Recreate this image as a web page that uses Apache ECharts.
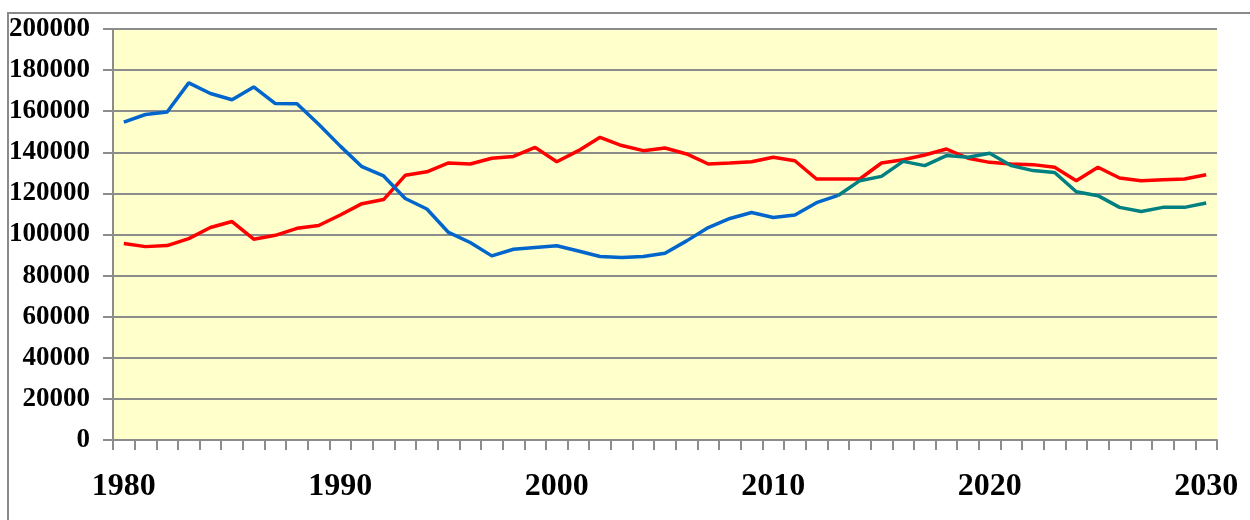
<!DOCTYPE html>
<html>
<head>
<meta charset="utf-8">
<script src="https://cdn.jsdelivr.net/npm/echarts@6/dist/echarts.min.js"></script>
<style>
html,body{margin:0;padding:0;background:#fff;}
#chart{width:1250px;height:520px;}
</style>
</head>
<body>
<div id="chart"></div>
<script>
const years = [
  '1980','1981','1982','1983','1984','1985','1986','1987','1988','1989',
  '1990','1991','1992','1993','1994','1995','1996','1997','1998','1999',
  '2000','2001','2002','2003','2004','2005','2006','2007','2008','2009',
  '2010','2011','2012','2013','2014','2015','2016','2017','2018','2019',
  '2020','2021','2022','2023','2024','2025','2026','2027','2028','2029','2030'
];

// Blue series: 1980–2013
const blueValues = [
  154700,158400,159600,173800,168600,165600,171800,163700,163600,153600,
  143000,133000,128500,117500,112400,101000,96100,89600,92800,93700,
  94500,92000,89300,88800,89300,90900,96900,103400,107800,110700,
  108300,109500,115500,119000
];

// Red series: 1980–2030
const redValues = [
  95600,94100,94600,98000,103400,106300,97700,99600,103000,104400,
  109500,115000,117000,128800,130500,134800,134300,137100,138000,142400,
  135400,140800,147300,143300,140800,142100,139200,134300,134800,135400,
  137600,135900,127000,127000,127000,134800,136400,138700,141600,137100,
  135100,134300,134000,132700,126200,132700,127500,126200,126700,127000,129100
];

// Teal series: 2013–2030
const tealStartYear = '2013';
const tealValues = [
  119000,126200,128300,135600,133500,138400,137600,139500,133500,131100,
  130200,120800,118900,113200,111200,113200,113200,115300
];

const yTicks = { min: 0, max: 200000, interval: 20000 };

const blueData = years.map((y, i) => i < blueValues.length ? blueValues[i] : null);
const tealStart = years.indexOf(tealStartYear);
const tealData = years.map((y, i) => i >= tealStart ? tealValues[i - tealStart] : null);

const chart = echarts.init(document.getElementById('chart'), null, {renderer: 'canvas'});
const gray = '#8c8c8c';
chart.setOption({
  animation: false,
  backgroundColor: '#ffffff',
  graphic: [{
    type: 'polyline',
    shape: { points: [[8, 520], [8, 13], [1250, 13]] },
    style: { stroke: '#8a8a8a', lineWidth: 2, fill: null },
    silent: true
  }],
  grid: {
    left: 113, right: 33, top: 29, bottom: 80,
    show: true, backgroundColor: '#FFFFCC', borderWidth: 0
  },
  xAxis: {
    type: 'category',
    data: years,
    boundaryGap: true,
    axisLine: { show: true, lineStyle: { color: gray, width: 2 } },
    axisTick: { show: true, interval: 0, length: 10, lineStyle: { color: gray, width: 2 } },
    axisLabel: {
      interval: (idx, val) => Number(val) % 10 === 0,
      margin: 31,
      fontFamily: '"Liberation Serif", "Times New Roman", serif',
      fontWeight: 'bold',
      fontSize: 32,
      color: '#000'
    },
    splitLine: { show: false }
  },
  yAxis: {
    type: 'value',
    min: yTicks.min, max: yTicks.max, interval: yTicks.interval,
    axisLine: { show: true, lineStyle: { color: gray, width: 2 } },
    axisTick: { show: true, length: 10, lineStyle: { color: gray, width: 2 } },
    axisLabel: {
      margin: 23,
      formatter: (v) => String(v),
      fontFamily: '"Liberation Serif", "Times New Roman", serif',
      fontWeight: 'bold',
      fontSize: 27,
      color: '#000'
    },
    splitLine: { show: true, lineStyle: { color: gray, width: 2 } }
  },
  series: [
    { type: 'line', data: redValues, showSymbol: false, symbol: 'none',
      lineStyle: { color: '#FF0000', width: 3.5 }, itemStyle: { color: '#FF0000' }, z: 2 },
    { type: 'line', data: blueData, showSymbol: false, symbol: 'none', connectNulls: false,
      lineStyle: { color: '#0066CC', width: 3.5 }, itemStyle: { color: '#0066CC' }, z: 3 },
    { type: 'line', data: tealData, showSymbol: false, symbol: 'none', connectNulls: false,
      lineStyle: { color: '#008080', width: 3.5 }, itemStyle: { color: '#008080' }, z: 4 }
  ]
});
</script>
</body>
</html>
